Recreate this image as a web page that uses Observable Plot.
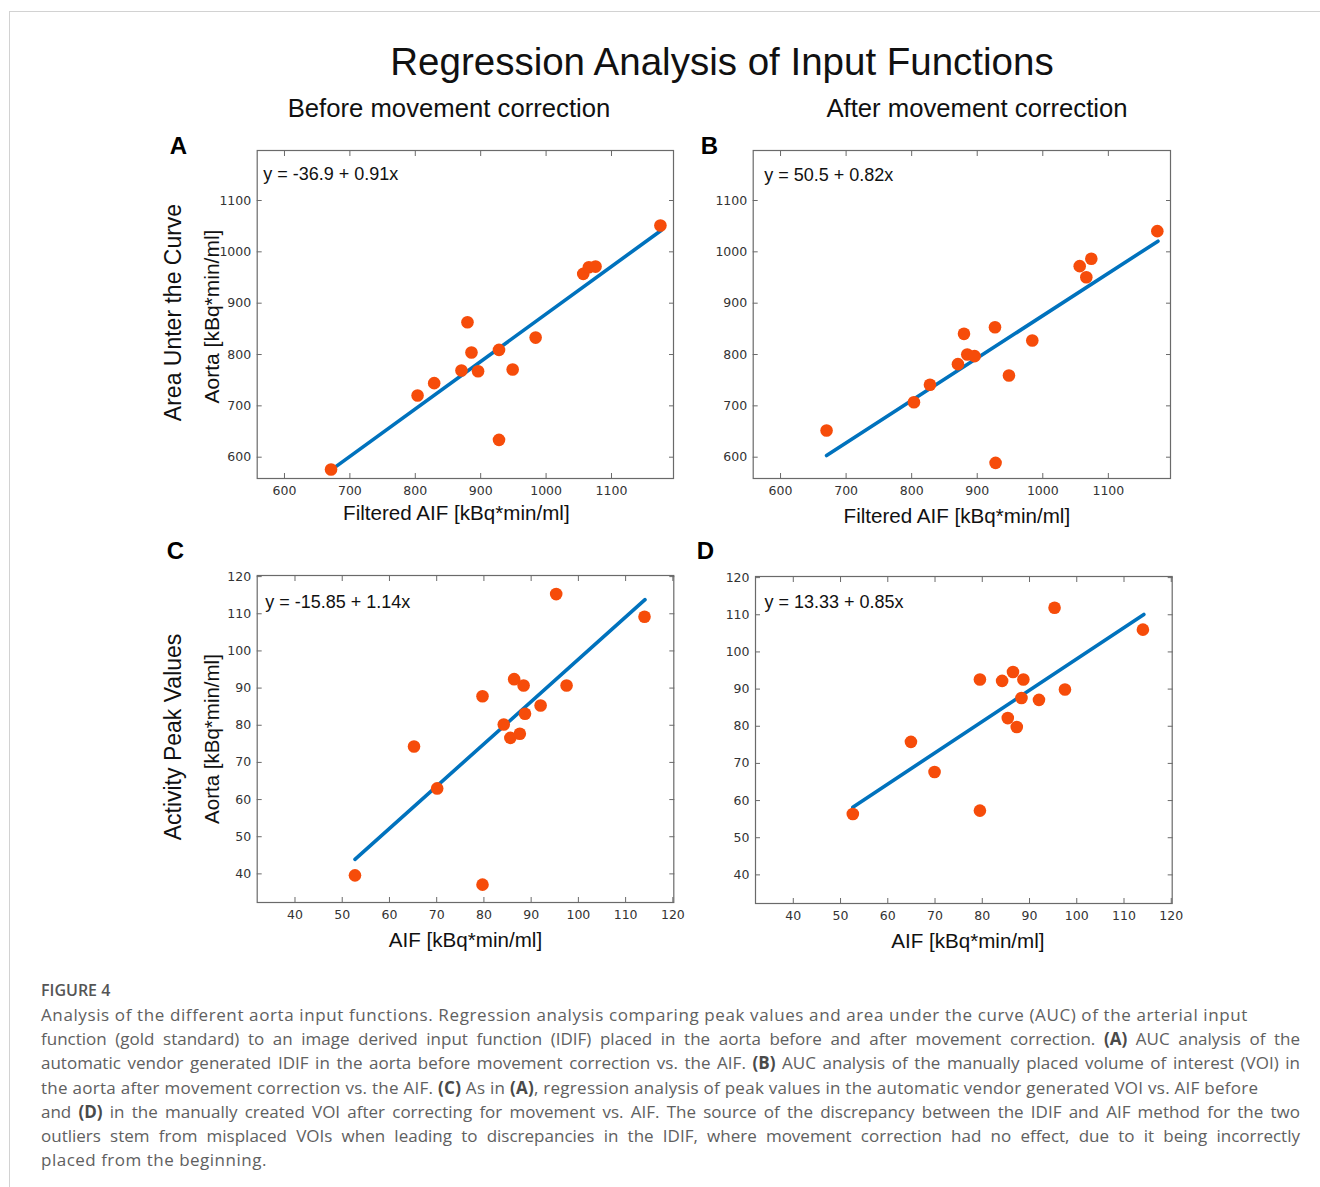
<!DOCTYPE html>
<html>
<head>
<meta charset="utf-8">
<script src="https://cdn.jsdelivr.net/npm/d3@7"></script>
<script src="https://cdn.jsdelivr.net/npm/@observablehq/plot@0.6"></script>
<style>
  body { margin: 0; background: #fff; }
  #page { position: relative; width: 1320px; height: 1187px; overflow: hidden; font-family: "Liberation Sans", Arial, sans-serif; background: #fff; }
  #border { position: absolute; left: 9px; top: 11px; width: 1330px; height: 1200px; border-top: 1.5px solid #d2d2d2; border-left: 1.5px solid #d2d2d2; }
  .abs { position: absolute; }
  .title { left: 322px; width: 800px; top: 40px; font-size: 38.5px; line-height: 44px; text-align: center; color: #111; }
  .sub { width: 400px; top: 93px; font-size: 25.7px; line-height: 30px; text-align: center; color: #111; }
  .panel svg { overflow: visible; }
  #caption { left: 41px; top: 977px; width: 1259px; font-family: "Open Sans", Lato, sans-serif; color: #606060; }
  #caption .head { font-size: 16px; font-weight: 600; line-height: 26px; color: #555; }
  #caption .ln { font-size: 17px; letter-spacing: 0.5px; line-height: 24.2px; white-space: nowrap; }
  #caption .ln:nth-child(2) { letter-spacing: 0.61px; }
  #caption .ln:nth-child(5) { letter-spacing: 0.27px; }
  #caption .j { text-align: justify; text-align-last: justify; letter-spacing: 0; }
  #caption b { font-weight: 700; color: #4a4a4a; }
</style>
</head>
<body>
<div id="page">
  <div id="border"></div>
  <div class="abs title" id="title"></div>
  <div class="abs sub" id="sub1" style="left:249px"></div>
  <div class="abs sub" id="sub2" style="left:777px"></div>
  <div class="abs panel" id="pA" style="left:150px; top:125px"></div>
  <div class="abs panel" id="pB" style="left:690px; top:125px"></div>
  <div class="abs panel" id="pC" style="left:150px; top:535px"></div>
  <div class="abs panel" id="pD" style="left:690px; top:535px"></div>
  <div class="abs" id="caption"></div>
</div>
<script>
// ---------- texts ----------
const titleText = "Regression Analysis of Input Functions";
const columnTitles = ["Before movement correction", "After movement correction"];
const rowLabels = ["Area Unter the Curve", "Activity Peak Values"];
const yAxisLabel = "Aorta [kBq*min/ml]";
const xAxisLabels = ["Filtered AIF [kBq*min/ml]", "AIF [kBq*min/ml]"];
const panelLetters = ["A", "B", "C", "D"];
const equations = ["y = -36.9 + 0.91x", "y = 50.5 + 0.82x", "y = -15.85 + 1.14x", "y = 13.33 + 0.85x"];

// ---------- ticks ----------
const aucTicks = [600, 700, 800, 900, 1000, 1100];
const peakTicks = [40, 50, 60, 70, 80, 90, 100, 110, 120];

// ---------- data ----------
// Panel A: AUC before movement correction
const aX = [671.2, 803.5, 828.9, 879.8, 885.9, 870.6, 896.0, 928.0, 928.0, 948.9, 984.0, 1056.8, 1065.4, 1075.6, 1174.8];
const aY = [576.0, 720.1, 744.2, 863.0, 803.9, 768.8, 767.5, 809.0, 633.8, 770.8, 833.0, 957.0, 970.0, 971.3, 1051.3];
const aFitX = [673.8, 1175.8];
const aFitY = [577.3, 1041.6];

// Panel B: AUC after movement correction
const bX = [670.2, 803.5, 827.9, 870.6, 879.8, 884.8, 896.0, 927.1, 928.0, 948.4, 984.0, 1056.3, 1066.4, 1074.0, 1174.7];
const bY = [651.9, 707.1, 741.0, 781.2, 840.3, 800.0, 796.8, 853.2, 589.0, 759.0, 827.3, 972.1, 950.6, 986.4, 1040.3];
const bFitX = [670.2, 1175.7];
const bFitY = [603.2, 1020.8];

// Panel C: peak values before movement correction
const cX = [52.7, 65.2, 70.1, 79.7, 79.7, 84.2, 85.6, 87.6, 86.4, 88.4, 88.7, 92.0, 95.3, 97.5, 114.0];
const cY = [39.6, 74.3, 63.0, 87.8, 37.1, 80.2, 76.6, 77.7, 92.4, 90.7, 83.1, 85.3, 115.3, 90.7, 109.2];
const cFitX = [52.7, 114.1];
const cFitY = [43.9, 113.8];

// Panel D: peak values after movement correction
const dX = [52.6, 64.9, 69.9, 79.5, 79.5, 84.2, 86.5, 88.7, 85.4, 87.3, 88.3, 92.0, 95.3, 97.5, 114.0];
const dY = [56.4, 75.8, 67.7, 92.6, 57.3, 92.2, 94.6, 92.6, 82.2, 79.8, 87.6, 87.1, 111.9, 89.9, 106.0];
const dFitX = [52.6, 114.2];
const dFitY = [58.2, 110.1];

// ---------- caption ----------
const captionHead = "FIGURE 4";
const captionLines = [
  {j: false, html: "Analysis of the different aorta input functions. Regression analysis comparing peak values and area under the curve (AUC) of the arterial input"},
  {j: true,  html: "function (gold standard) to an image derived input function (IDIF) placed in the aorta before and after movement correction. <b>(A)</b> AUC analysis of the"},
  {j: true,  html: "automatic vendor generated IDIF in the aorta before movement correction vs. the AIF. <b>(B)</b> AUC analysis of the manually placed volume of interest (VOI) in"},
  {j: false, html: "the aorta after movement correction vs. the AIF. <b>(C)</b> As in <b>(A)</b>, regression analysis of peak values in the automatic vendor generated VOI vs. AIF before"},
  {j: true,  html: "and <b>(D)</b> in the manually created VOI after correcting for movement vs. AIF. The source of the discrepancy between the IDIF and AIF method for the two"},
  {j: true,  html: "outliers stem from misplaced VOIs when leading to discrepancies in the IDIF, where movement correction had no effect, due to it being incorrectly"},
  {j: false, html: "placed from the beginning."}
];

// ---------- build ----------
document.getElementById("title").textContent = titleText;
document.getElementById("sub1").textContent = columnTitles[0];
document.getElementById("sub2").textContent = columnTitles[1];

const cap = document.getElementById("caption");
const hd = document.createElement("div"); hd.className = "head"; hd.textContent = captionHead; cap.appendChild(hd);
for (const l of captionLines) {
  const d = document.createElement("div");
  d.className = "ln" + (l.j ? " j" : "");
  d.innerHTML = l.html;
  cap.appendChild(d);
}

const DOT = "#f64c0a";
const LINE = "#0072bd";
const FRAME = "#6a6a6a";
const TICKFONT = "DejaVu Sans, sans-serif";
const fmt = d => String(d);

function panel(cfg) {
  const pts = cfg.xs.map((x, i) => ({x, y: cfg.ys[i]}));
  const fit = cfg.fitX.map((x, i) => ({x, y: cfg.fitY[i]}));
  const marks = [
    Plot.axisX(cfg.xTicks, {anchor: "bottom", tickSize: -5, tickPadding: 13, fontSize: 12.5, fontFamily: TICKFONT, fill: "#333", stroke: FRAME, tickFormat: fmt, label: null}),
    Plot.axisX(cfg.xTicks, {anchor: "top", tickSize: -5, tickFormat: () => "", stroke: FRAME, label: null}),
    Plot.axisY(cfg.yTicks, {anchor: "left", tickSize: -5, tickPadding: 11, fontSize: 12.5, fontFamily: TICKFONT, fill: "#333", stroke: FRAME, tickFormat: fmt, label: null}),
    Plot.axisY(cfg.yTicks, {anchor: "right", tickSize: -5, tickFormat: () => "", stroke: FRAME, label: null}),
    Plot.line(fit, {x: "x", y: "y", stroke: LINE, strokeWidth: 3.6}),
    Plot.dot(pts, {x: "x", y: "y", r: 6.3, fill: DOT, stroke: "none"}),
    Plot.frame({stroke: FRAME, strokeWidth: 1.2}),
    Plot.text([cfg.eq], {text: d => d, frameAnchor: "top-left", textAnchor: "start", lineAnchor: "middle", dx: cfg.eqDx, dy: cfg.eqDy, fontSize: 18, fill: "#111"}),
    Plot.text([cfg.xLabel], {text: d => d, frameAnchor: "bottom", textAnchor: "middle", lineAnchor: "middle", dx: cfg.xlDx, dy: cfg.xlDy, fontSize: 20.6, fill: "#111"}),
    Plot.text([cfg.letter], {text: d => d, frameAnchor: "top-left", textAnchor: "middle", lineAnchor: "middle", dx: cfg.ltDx, dy: cfg.ltDy, fontSize: 24, fontWeight: "bold", fill: "#000"})
  ];
  if (cfg.rowLabel) {
    marks.push(Plot.text([yAxisLabel], {text: d => d, frameAnchor: "left", textAnchor: "middle", lineAnchor: "middle", rotate: -90, dx: -44.7, dy: cfg.ylDy, fontSize: cfg.ylSize, fill: "#111"}));
    marks.push(Plot.text([cfg.rowLabel], {text: d => d, frameAnchor: "left", textAnchor: "middle", lineAnchor: "middle", rotate: -90, dx: -83.7, dy: cfg.rlDy, fontSize: 23, fill: "#111"}));
  }
  return Plot.plot({
    width: cfg.width, height: cfg.height,
    marginLeft: cfg.ml, marginRight: cfg.mr, marginTop: cfg.mt, marginBottom: cfg.mb,
    style: {fontFamily: "Liberation Sans, Arial, sans-serif", background: "transparent", overflow: "visible"},
    x: {domain: cfg.xDomain},
    y: {domain: cfg.yDomain},
    marks
  });
}

const aucXDomain = [558.3, 1194.8];
const aucYDomain = [558.5, 1197.4];
const peakXDomain = [32.0, 120.2];
const peakYDomain = [32.3, 120.3];

document.getElementById("pA").appendChild(panel({
  xs: aX, ys: aY, fitX: aFitX, fitY: aFitY, xTicks: aucTicks, yTicks: aucTicks,
  xDomain: aucXDomain, yDomain: aucYDomain,
  width: 540, height: 410, ml: 106.7, mr: 17, mt: 25, mb: 57,
  eq: equations[0], eqDx: 6, eqDy: 24, xLabel: xAxisLabels[0], xlDx: -9, xlDy: 35,
  ylDy: 2, ylSize: 21, letter: panelLetters[0], ltDx: -78.7, ltDy: -4,
  rowLabel: rowLabels[0], rlDy: -2
}));
document.getElementById("pB").appendChild(panel({
  xs: bX, ys: bY, fitX: bFitX, fitY: bFitY, xTicks: aucTicks, yTicks: aucTicks,
  xDomain: aucXDomain, yDomain: aucYDomain,
  width: 500, height: 410, ml: 62.7, mr: 20, mt: 25, mb: 57,
  eq: equations[1], eqDx: 11, eqDy: 25, xLabel: xAxisLabels[0], xlDx: -5, xlDy: 38,
  letter: panelLetters[1], ltDx: -43.7, ltDy: -4
}));
document.getElementById("pC").appendChild(panel({
  xs: cX, ys: cY, fitX: cFitX, fitY: cFitY, xTicks: peakTicks, yTicks: peakTicks,
  xDomain: peakXDomain, yDomain: peakYDomain,
  width: 540, height: 430, ml: 106.7, mr: 16.7, mt: 40, mb: 63,
  eq: equations[2], eqDx: 8, eqDy: 27, xLabel: xAxisLabels[1], xlDx: 0, xlDy: 38,
  ylDy: 0, ylSize: 20.5, letter: panelLetters[2], ltDx: -81.7, ltDy: -24,
  rowLabel: rowLabels[1], rlDy: -2
}));
document.getElementById("pD").appendChild(panel({
  xs: dX, ys: dY, fitX: dFitX, fitY: dFitY, xTicks: peakTicks, yTicks: peakTicks,
  xDomain: peakXDomain, yDomain: peakYDomain,
  width: 500, height: 430, ml: 65, mr: 18.3, mt: 41, mb: 62,
  eq: equations[3], eqDx: 9, eqDy: 26, xLabel: xAxisLabels[1], xlDx: 4, xlDy: 38,
  letter: panelLetters[3], ltDx: -50, ltDy: -25
}));
</script>
</body>
</html>
